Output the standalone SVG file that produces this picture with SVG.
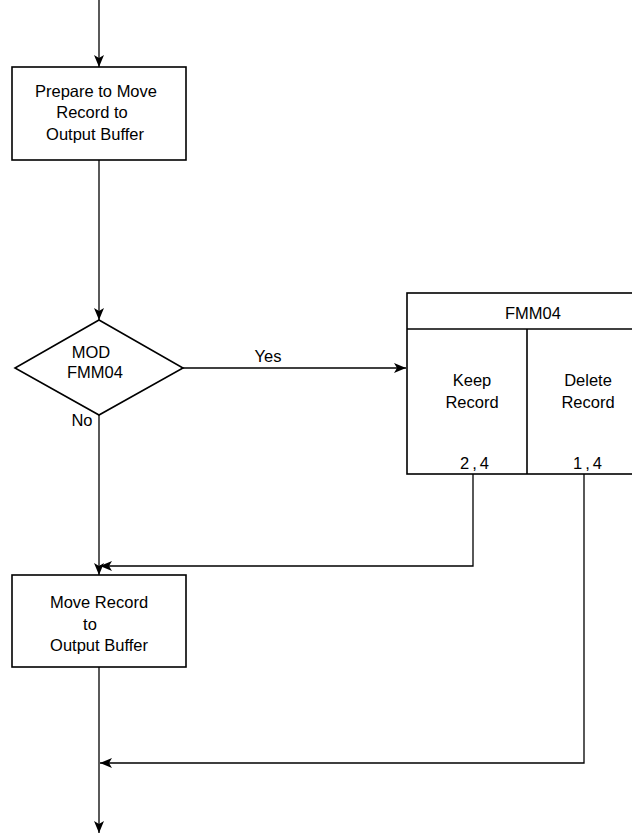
<svg xmlns="http://www.w3.org/2000/svg" width="632" height="834" viewBox="0 0 632 834">
<defs>
<marker id="ah" markerWidth="12" markerHeight="10" refX="12" refY="5" orient="auto" markerUnits="userSpaceOnUse">
<path d="M0,0 L12,5 L0,10 L3,5 Z" fill="#000"/>
</marker>
</defs>
<style>
.ln{stroke:#000;stroke-width:1.3;fill:none}
.bx{stroke:#000;stroke-width:1.6;fill:#fff}
text{font-family:"Liberation Sans",Arial,sans-serif;font-size:16.5px;fill:#000;text-anchor:middle}
.num{letter-spacing:3px}
</style>
<rect width="632" height="834" fill="#fff"/>
<g id="connectors">
<line class="ln" x1="99" y1="0" x2="99" y2="67" marker-end="url(#ah)"/>
<line class="ln" x1="99" y1="160" x2="99" y2="320" marker-end="url(#ah)"/>
<line class="ln" x1="183" y1="368" x2="406" y2="368" marker-end="url(#ah)"/>
<text x="268" y="362">Yes</text>
<line class="ln" x1="99" y1="415" x2="99" y2="575" marker-end="url(#ah)"/>
<polyline class="ln" points="473,474 473,566 100,566" marker-end="url(#ah)"/>
<line class="ln" x1="99" y1="667" x2="99" y2="833" marker-end="url(#ah)"/>
<polyline class="ln" points="584,474 584,763 100,763" marker-end="url(#ah)"/>
</g>
<g id="prepare">
<rect class="bx" x="12" y="67" width="174" height="93"/>
<text x="96" y="97">Prepare to Move</text>
<text x="92" y="118">Record to</text>
<text x="95" y="140">Output Buffer</text>
</g>
<g id="decision">
<polygon class="bx" points="99,320 183,368 99,415 15,368"/>
<text x="91" y="358">MOD</text>
<text x="95" y="378">FMM04</text>
<text x="82" y="426">No</text>
</g>
<g id="table">
<rect class="bx" x="407" y="293" width="232" height="181"/>
<line class="ln" x1="407" y1="329" x2="640" y2="329" style="stroke-width:1.6"/>
<line class="ln" x1="527" y1="329" x2="527" y2="474" style="stroke-width:1.6"/>
<text x="533" y="319">FMM04</text>
<text x="472" y="386">Keep</text>
<text x="472" y="408">Record</text>
<text x="588" y="386">Delete</text>
<text x="588" y="408">Record</text>
<text class="num" x="476" y="469">2,4</text>
<text class="num" x="589" y="469">1,4</text>
</g>
<g id="move">
<rect class="bx" x="12" y="575" width="174" height="92"/>
<text x="99" y="608">Move Record</text>
<text x="90" y="630">to</text>
<text x="99" y="651">Output Buffer</text>
</g>
</svg>
